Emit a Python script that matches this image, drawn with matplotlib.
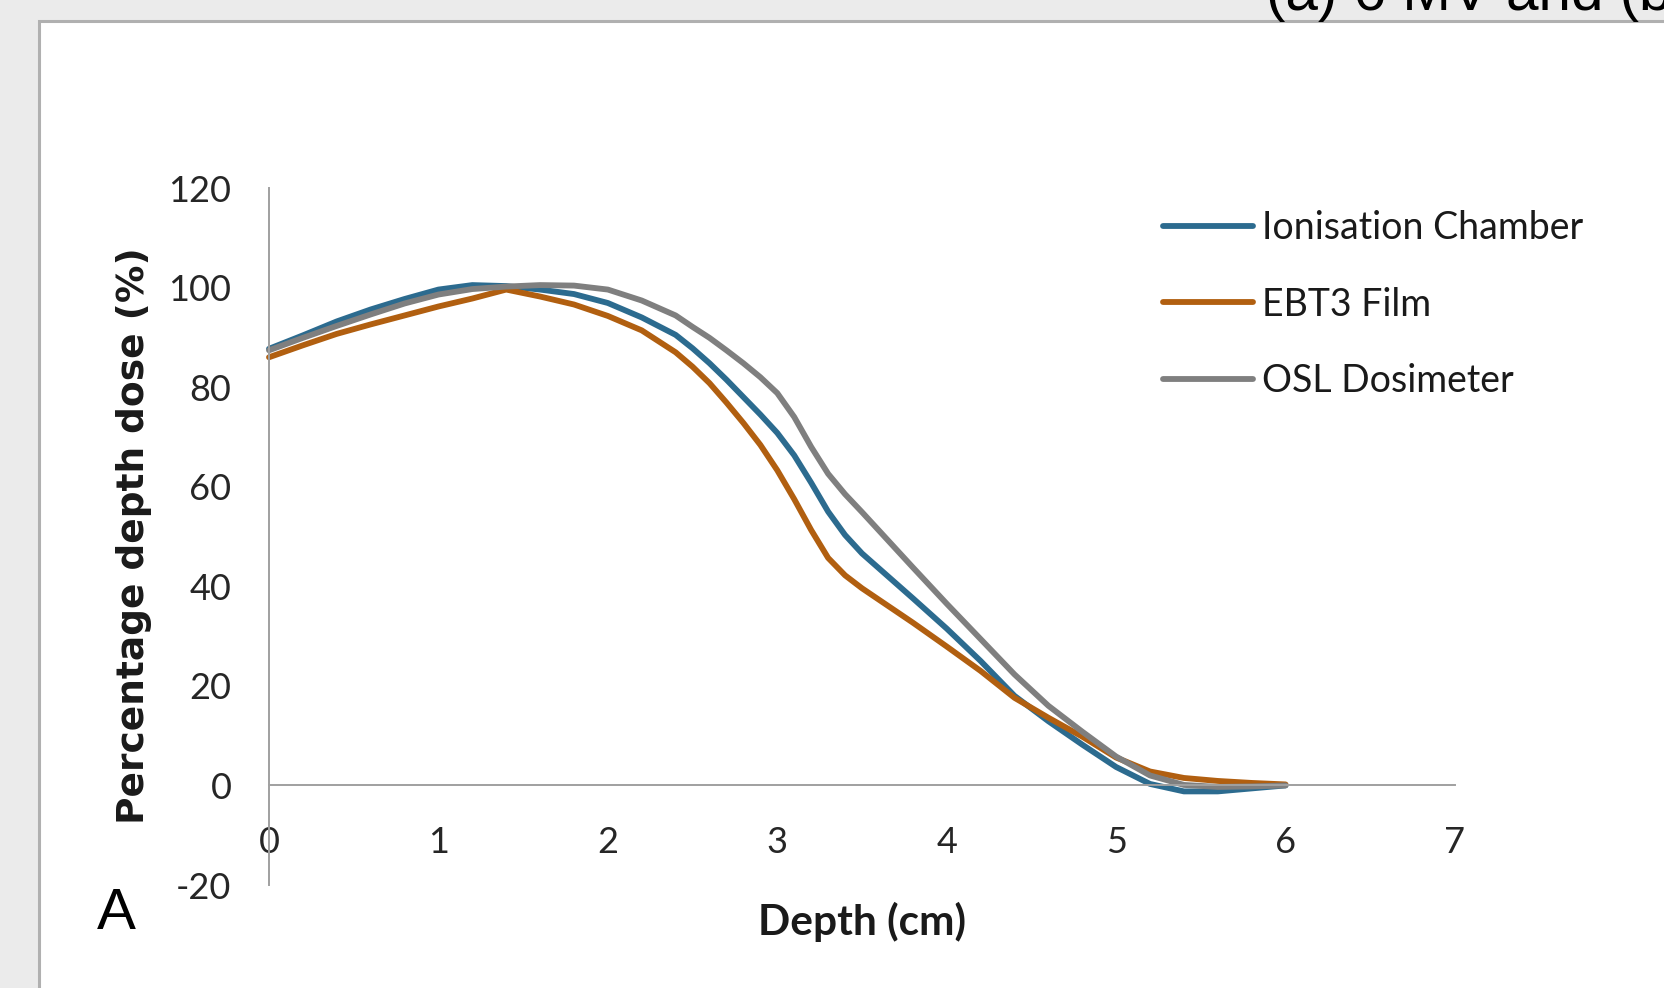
import numpy as np
import matplotlib.pyplot as plt
from matplotlib.patches import Rectangle

plt.rcParams['axes.unicode_minus'] = False

# depth dose curves (depth in cm, dose in %)
depth = [0.0, 0.2, 0.4, 0.6, 0.8, 1.0, 1.2, 1.4, 1.6, 1.8, 2.0, 2.2, 2.4,
         2.5, 2.6, 2.7, 2.8, 2.9, 3.0, 3.1, 3.2, 3.3, 3.4, 3.5, 3.6, 3.7, 3.8,
         4.0, 4.2, 4.4, 4.6, 4.8, 5.0, 5.2, 5.4, 5.6, 5.8, 6.0]

ion_chamber = [87.7, 90.4, 93.2, 95.6, 97.7, 99.6, 100.5, 100.3, 99.6, 98.7, 96.9, 94.0, 90.5,
               87.8, 84.8, 81.5, 78.0, 74.5, 70.8, 66.3, 60.8, 55.0, 50.3, 46.6, 43.6, 40.6, 37.6,
               31.5, 25.0, 18.0, 12.9, 8.2, 3.7, 0.3, -1.2, -1.2, -0.6, 0.0]

ebt3_film = [86.0, 88.4, 90.7, 92.6, 94.4, 96.2, 97.8, 99.6, 98.2, 96.6, 94.3, 91.4, 87.0,
             84.1, 80.8, 76.9, 72.8, 68.4, 63.3, 57.5, 51.3, 45.7, 42.2, 39.6, 37.3, 35.0, 32.7,
             27.9, 23.0, 17.6, 13.6, 9.8, 5.6, 2.8, 1.5, 0.9, 0.5, 0.2]

osl_dosimeter = [87.4, 89.9, 92.3, 94.6, 96.8, 98.6, 99.7, 100.2, 100.5, 100.4, 99.6, 97.4, 94.4,
                 92.1, 89.9, 87.4, 84.8, 82.0, 78.8, 74.0, 68.0, 62.6, 58.5, 54.9, 51.2, 47.5, 43.8,
                 36.5, 29.4, 22.3, 16.0, 10.8, 5.8, 2.0, 0.1, -0.3, -0.2, 0.0]

series_names = ['Ionisation Chamber', 'EBT3 Film', 'OSL Dosimeter']
series_colors = ['#2c6b8f', '#b15f10', '#7f7f7f']

x_ticks = [0, 1, 2, 3, 4, 5, 6, 7]
y_ticks = [-20, 0, 20, 40, 60, 80, 100, 120]

W, H = 1665, 988
fig = plt.figure(figsize=(W / 100, H / 100), dpi=100)
fig.patch.set_facecolor('#ebebeb')

# white panel with grey border (left and top edges visible)
panel = Rectangle((39 / W, -0.1), 1.2, 1 - 21 / H + 0.1, transform=fig.transFigure,
                  facecolor='white', edgecolor='#b0b0b0', linewidth=2.2, zorder=-1)
fig.patches.append(panel)

# cut-off caption at the very top
fig.text(1266 / W, 1 - 10 / H, '(a) 6 MV and (b', fontsize=42, family='Liberation Sans',
         va='baseline', ha='left', color='black')

ax = fig.add_axes([269 / W, 1 - 885 / H, (1455 - 269) / W, (885 - 188) / H])
ax.set_zorder(2)
ax.patch.set_visible(False)

for vals, name, col in zip([ion_chamber, ebt3_film, osl_dosimeter], series_names, series_colors):
    ax.plot(depth, vals, color=col, lw=4.2, label=name, solid_capstyle='round',
            solid_joinstyle='round', clip_on=False)

ax.set_xlim(0, 7)
ax.set_ylim(-20, 120)
ax.set_xticks(x_ticks)
ax.set_yticks(y_ticks)

ax.spines['top'].set_visible(False)
ax.spines['right'].set_visible(False)
ax.spines['bottom'].set_position(('data', 0))
for s in ['left', 'bottom']:
    ax.spines[s].set_color('#a0a0a0')
    ax.spines[s].set_linewidth(1.4)

ax.tick_params(axis='x', length=0, pad=29, labelsize=26, labelcolor='#262626')
ax.tick_params(axis='y', length=0, pad=27, labelsize=26, labelcolor='#262626')
for lab in ax.get_xticklabels() + ax.get_yticklabels():
    lab.set_family('Lato')

fig.text(862 / W, 1 - 922 / H, 'Depth (cm)', fontsize=30.5, family='Lato', weight='bold',
         ha='center', va='center', color='#1a1a1a')
fig.text(134 / W, 1 - 536 / H, 'Percentage depth dose (%)', fontsize=27, family='DejaVu Sans',
         weight='bold', ha='center', va='center', rotation=90, color='#1a1a1a')

fig.text(116 / W, 1 - 914 / H, 'A', fontsize=42, family='Liberation Sans',
         ha='center', va='center', color='black')

leg = ax.legend(loc='upper left', bbox_to_anchor=(1163 / W, 1 - 210 / H),
                bbox_transform=fig.transFigure, frameon=False, fontsize=27,
                handlelength=2.4, handletextpad=0.24, labelspacing=1.08,
                borderpad=0, borderaxespad=0)
for t in leg.get_texts():
    t.set_family('Lato')
    t.set_color('#1a1a1a')

fig.savefig('out.png', dpi=100, facecolor=fig.get_facecolor())
